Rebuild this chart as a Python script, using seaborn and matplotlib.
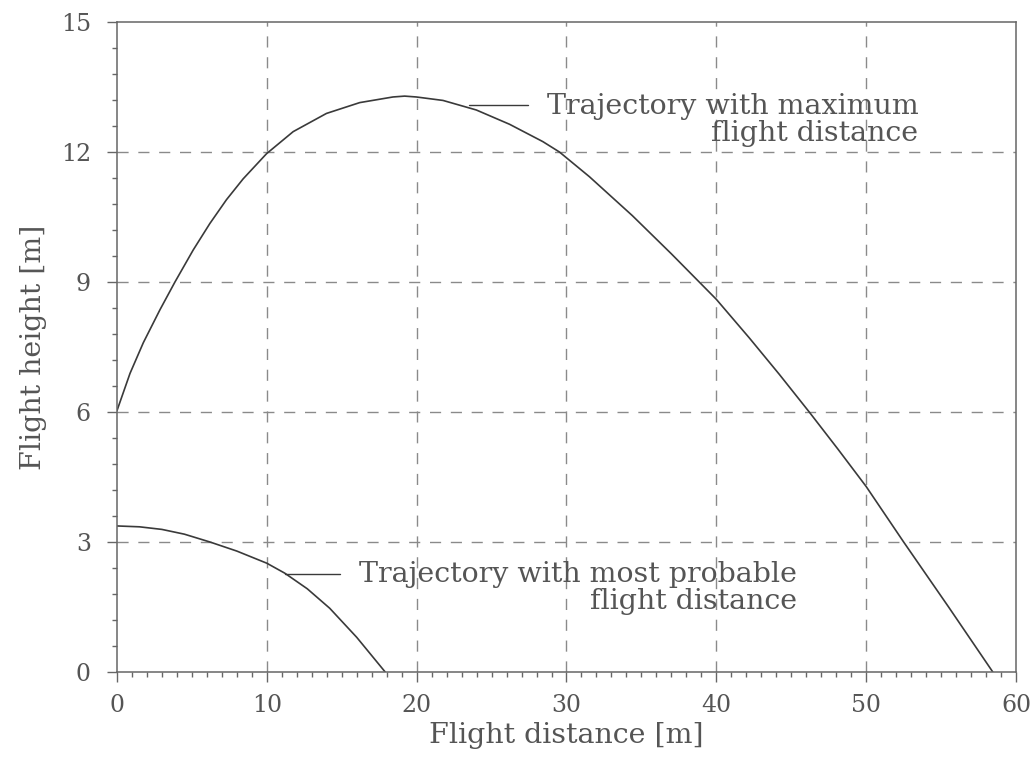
import numpy as np
import pandas as pd
import matplotlib
matplotlib.use("Agg")
import matplotlib.pyplot as plt
import seaborn as sns
from matplotlib.ticker import MultipleLocator

# Trajectory with maximum flight distance (distance [m], height [m])
max_x = [0.0, 0.87, 1.76, 2.87, 3.87, 5.09, 6.2, 7.31, 8.42, 9.98, 11.76, 13.98,
         16.2, 18.42, 19.2, 19.98, 21.76, 23.98, 26.2, 28.42, 29.53, 31.53, 34.4, 37.0,
         39.0, 40.0, 42.2, 44.2, 46.2, 48.1, 50.0, 52.5, 55.5, 58.45]
max_y = [6.03, 6.89, 7.6, 8.36, 9.0, 9.74, 10.35, 10.9, 11.38, 11.96, 12.47, 12.89,
         13.14, 13.27, 13.29, 13.27, 13.19, 12.97, 12.64, 12.24, 12.0, 11.43, 10.53, 9.65,
         8.95, 8.6, 7.71, 6.87, 6.0, 5.15, 4.28, 3.0, 1.5, 0.0]

# Trajectory with most probable flight distance
prob_x = [0.0, 1.5, 3.0, 4.5, 6.2, 8.0, 10.0, 11.2, 12.7, 14.2, 16.0, 17.9]
prob_y = [3.37, 3.35, 3.29, 3.18, 3.0, 2.79, 2.51, 2.28, 1.92, 1.47, 0.8, 0.0]

x_ticks = [0, 10, 20, 30, 40, 50, 60]
y_ticks = [0, 3, 6, 9, 12, 15]

label_max = "Trajectory with maximum\nflight distance"
label_prob = "Trajectory with most probable\nflight distance"

sns.set_theme(style="white")
plt.rcParams["font.family"] = ["DejaVu Serif"]

ink = "#3a3a3a"
text_col = "#555555"
grid_col = "#8a8a8a"
PT = 0.72  # points per pixel at 100 dpi

fig = plt.figure(figsize=(10.36, 7.67), dpi=100)
ax = fig.add_axes([0.1129, 0.1239, 0.8678, 0.8474])

df_max = pd.DataFrame({"x": max_x, "y": max_y})
df_prob = pd.DataFrame({"x": prob_x, "y": prob_y})
sns.lineplot(data=df_max, x="x", y="y", ax=ax, color=ink, lw=1.2, estimator=None, sort=False)
sns.lineplot(data=df_prob, x="x", y="y", ax=ax, color=ink, lw=1.2, estimator=None, sort=False)

ax.set_xlim(x_ticks[0], x_ticks[-1])
ax.set_ylim(y_ticks[0], y_ticks[-1])
ax.set_xticks(x_ticks)
ax.set_yticks(y_ticks)
ax.xaxis.set_minor_locator(MultipleLocator(1))
ax.yaxis.set_minor_locator(MultipleLocator(0.6))

# dashed grid at interior major ticks only
for gx in x_ticks[1:-1]:
    ax.axvline(gx, color=grid_col, lw=1.0, ls=(0, (8, 7)), zorder=0)
for gy in y_ticks[1:-1]:
    ax.axhline(gy, color=grid_col, lw=1.0, ls=(0, (8, 7)), zorder=0)

for s in ax.spines.values():
    s.set_color("#666666")
    s.set_linewidth(1.1)

ax.tick_params(axis="both", which="major", direction="out", length=10 * PT, width=1.0,
               color="#666666", labelsize=17, labelcolor=text_col,
               bottom=True, left=True, top=False, right=False)
ax.tick_params(axis="both", which="minor", direction="out", length=5 * PT, width=1.0,
               color="#666666", bottom=True, left=True, top=False, right=False)
ax.tick_params(axis="x", which="major", pad=12 * PT)
ax.tick_params(axis="y", which="major", pad=16 * PT)

ax.set_xlabel("Flight distance [m]", fontsize=20.5, color=text_col, labelpad=5 * PT)
ax.set_ylabel("Flight height [m]", fontsize=20.5, color=text_col, labelpad=14 * PT)

# annotations with leader lines
ax.plot([23.5, 27.4], [13.08, 13.08], color=ink, lw=1.0)
ax.text(53.5, 12.74, label_max, ha="right", va="center", multialignment="right",
        fontsize=20.5, color=text_col, linespacing=1.0)

ax.plot([11.2, 14.9], [2.27, 2.27], color=ink, lw=1.0)
ax.text(45.4, 1.93, label_prob, ha="right", va="center", multialignment="right",
        fontsize=20.5, color=text_col, linespacing=1.0)

fig.savefig("out.png", dpi=100, facecolor="white")
